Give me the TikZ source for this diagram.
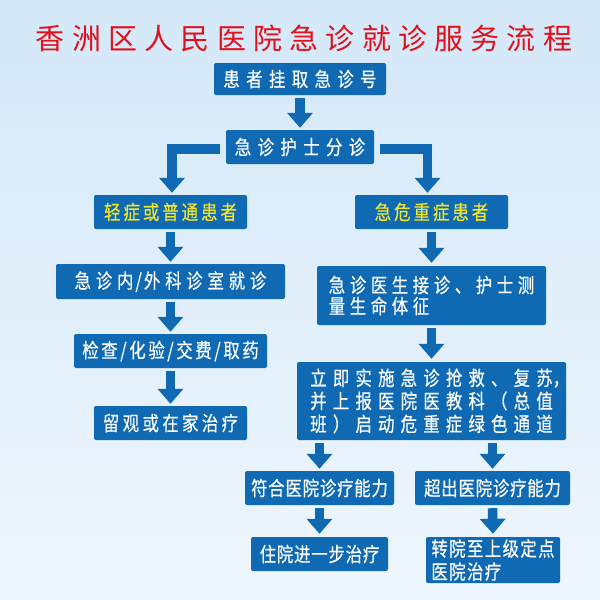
\documentclass[tikz,border=0pt]{standalone}
\usepackage{fontspec}
\usetikzlibrary{arrows.meta,calc}
\newfontfamily\cjk{Noto Sans CJK SC}[FakeStretch=0.82,FakeBold=0.4]
\newfontfamily\cjktitle{Noto Sans CJK SC}[LetterSpace=25]
\newcommand\lsp[1]{\addfontfeature{LetterSpace=#1}}
\definecolor{boxblue}{HTML}{0F69B3}
\definecolor{bgtop}{HTML}{D4E8F8}
\definecolor{bgbot}{HTML}{EEF6FD}
\definecolor{titlered}{HTML}{E3101C}
\definecolor{txtyellow}{HTML}{F3E52A}
\begin{document}
\begin{tikzpicture}[x=1pt,y=-1pt,
  box/.style={fill=boxblue, rounded corners=2pt, text=white, inner sep=0pt,
    font=\cjk\fontsize{20}{21}\selectfont, align=center},
  ybox/.style={box, text=txtyellow},
  arr/.style={draw=boxblue, line width=9.5pt, line join=miter,
    -{Triangle[width=25pt,length=15pt]}}]
\useasboundingbox (0,0) rectangle (600,600);
\shade[top color=bgtop, bottom color=bgbot] (0,0) rectangle (600,600);
\node[font=\cjktitle\fontsize{29}{32}\selectfont, text=titlered, inner sep=0pt] (title) at (304,38) {香洲区人民医院急诊就诊服务流程};
% nodes
\node[box, minimum width=172pt, minimum height=32pt] (n1) at (300,79) {\lsp{32}患者挂取急诊号};
\node[box, minimum width=148pt, minimum height=34pt] (n2) at (300,147) {\lsp{32}急诊护士分诊};
\node[ybox, minimum width=153pt, minimum height=34pt] (L1) at (170.5,212) {\lsp{15}轻症或普通患者};
\node[ybox, minimum width=153pt, minimum height=34pt] (R1) at (431.5,212) {\lsp{15}急危重症患者};
\node[box, minimum width=229pt, minimum height=35pt] (L2) at (170.5,281.5) {\lsp{24}急诊内\kern2pt/\kern2pt外科诊室就诊};
\node[box, minimum width=229pt, minimum height=59pt, align=left] (R2) at (431.5,295.5) {\lsp{23}急诊医生接诊、护士测\\\lsp{23}量生命体征};
\node[box, minimum width=193pt, minimum height=34pt] (L3) at (170.5,351) {\lsp{13}检查/化验/交费/取药};
\node[box, minimum width=269pt, minimum height=78pt, align=left, font=\cjk\fontsize{20}{23}\selectfont] (R3) at (431.5,401) {\lsp{31}立即实施急诊抢救、复苏\rlap{，}\\\lsp{31}并上报医院医教科（总值\\\lsp{31}班）启动危重症绿色通道};
\node[box, minimum width=153pt, minimum height=34pt] (L4) at (170.5,423) {\lsp{17}留观或在家治疗};
\node[box, minimum width=149pt, minimum height=34pt] (R4a) at (319.5,488) {\lsp{4}符合医院诊疗能力};
\node[box, minimum width=155pt, minimum height=34pt] (R4b) at (492.5,488) {\lsp{4}超出医院诊疗能力};
\node[box, minimum width=137pt, minimum height=34pt] (R5a) at (319.5,554) {\lsp{4}住院进一步治疗};
\node[box, minimum width=134pt, minimum height=46pt, align=left, font=\cjk\fontsize{20}{23}\selectfont] (R5b) at (493,560) {\lsp{7}转院至上级定点\\\lsp{7}医院治疗};
% arrows
\draw[arr] ($(n1.south)+(0,3)$) -- ($(n2.north)+(0,-2)$);
\draw[arr] ($(n2.west)+(-6,2)$) -| ($(L1.north)+(1.5,-2)$);
\draw[arr] ($(n2.east)+(6,2)$) -| ($(R1.north)+(-4,-2)$);
\draw[arr] ($(L1.south)+(0,3)$) -- ($(L2.north)+(0,-2)$);
\draw[arr] ($(R1.south)+(0,3)$) -- ($(R2.north)+(0,-3)$);
\draw[arr] ($(L2.south)+(0,3)$) -- ($(L3.north)+(0,-2)$);
\draw[arr] ($(R2.south)+(0,3)$) -- ($(R3.north)+(0,-3)$);
\draw[arr] ($(L3.south)+(0,3)$) -- ($(L4.north)+(0,-2)$);
\draw[arr] ($(R3.south -| R4a.north)+(0,3)$) -- ($(R4a.north)+(0,-2)$);
\draw[arr] ($(R3.south -| R4b.north)+(0,3)$) -- ($(R4b.north)+(0,-2)$);
\draw[arr] ($(R4a.south)+(0,3)$) -- ($(R5a.north)+(0,-3)$);
\draw[arr] ($(R4b.south)+(0,3)$) -- ($(R5b.north)+(0,-3)$);
\end{tikzpicture}
\end{document}
